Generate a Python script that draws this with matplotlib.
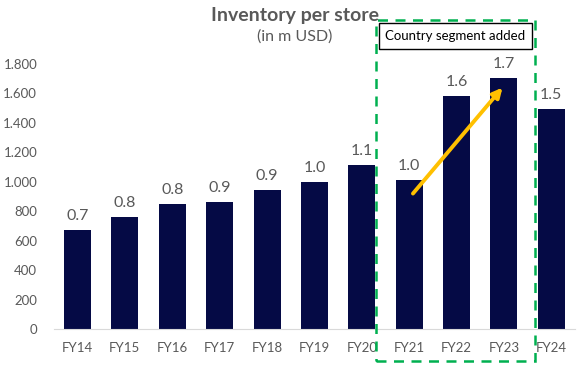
import matplotlib
matplotlib.use("Agg")
import matplotlib.pyplot as plt
from matplotlib.patches import Rectangle
from matplotlib.ticker import FuncFormatter

plt.rcParams['font.family'] = ['Lato', 'DejaVu Sans']

years = ['FY14', 'FY15', 'FY16', 'FY17', 'FY18', 'FY19', 'FY20',
         'FY21', 'FY22', 'FY23', 'FY24']
inventory = [672, 761, 849, 863, 944, 999, 1114, 1012, 1583, 1705, 1495]
yticks = [0, 200, 400, 600, 800, 1000, 1200, 1400, 1600, 1800]

W, H = 577, 369
bar_color = '#050A45'
grey = '#595959'

fig = plt.figure(figsize=(W / 100, H / 100), dpi=100)
ax = fig.add_axes([53.8 / W, (H - 329) / H, (575 - 53.8) / W, (329 - 64) / H])

x = list(range(len(years)))
ax.bar(x, inventory, width=0.57, color=bar_color, zorder=2)
for xi, v in zip(x, inventory):
    ax.text(xi, v + 45, f"{v / 1000:.1f}", ha='center', va='bottom',
            fontsize=11.5, color=grey)

ax.set_xlim(-0.5, len(years) - 0.5)
ax.set_ylim(0, 1800)
ax.set_yticks(yticks)
ax.yaxis.set_major_formatter(FuncFormatter(lambda v, p: f"{int(v):,}".replace(',', '.')))
ax.set_xticks(x)
ax.set_xticklabels(years)
ax.tick_params(axis='both', length=0, labelsize=9.5, labelcolor=grey)
ax.tick_params(axis='x', pad=9)
ax.tick_params(axis='y', pad=12)
for s in ['top', 'right', 'left']:
    ax.spines[s].set_visible(False)
ax.spines['bottom'].set_color('#D9D9D9')

# title
fig.text(295 / W, 1 - 15 / H, 'Inventory per store', ha='center', va='center',
         fontsize=14, fontweight='bold', color=grey)
fig.text(295 / W, 1 - 37 / H, '(in m USD)', ha='center', va='center',
         fontsize=11.5, color=grey)

# highlighted segment
fig.patches.append(Rectangle((376 / W, (H - 361) / H), (535 - 376) / W, (361 - 20) / H,
                             transform=fig.transFigure, fill=False,
                             edgecolor='#00B050', lw=1.8, linestyle=(0, (4, 3))))
fig.patches.append(Rectangle((379 / W, (H - 49) / H), (532 - 379) / W, (49 - 23) / H,
                             transform=fig.transFigure, facecolor='white',
                             edgecolor='black', lw=1.0))
fig.text(455.5 / W, 1 - 36 / H, 'Country segment added', ha='center', va='center',
         fontsize=9.5, color='black')

# growth arrow
ax.annotate('', xy=(8.97, 1640), xytext=(7.08, 920),
            arrowprops=dict(arrowstyle='-|>', color='#FFC000', lw=2.8,
                            mutation_scale=14, shrinkA=0, shrinkB=0),
            annotation_clip=False, zorder=5)

fig.savefig('out.png', dpi=100)
